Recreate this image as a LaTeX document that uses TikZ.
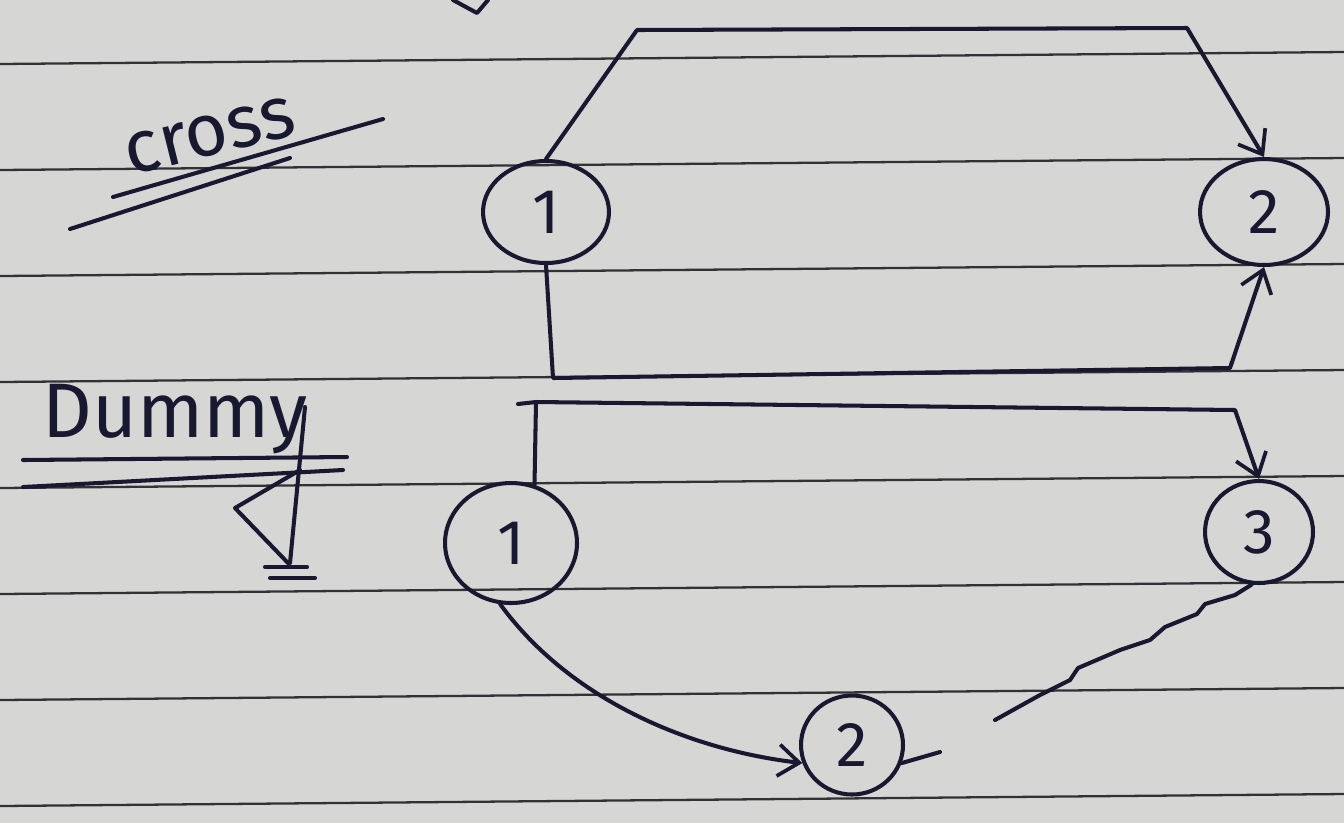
\documentclass[tikz,border=0pt]{standalone}
\usepackage{fontspec}
\setmainfont{Fira Sans}
\usetikzlibrary{arrows.meta,shapes.geometric}
\definecolor{paper}{RGB}{214,214,212}
\definecolor{rule}{RGB}{50,50,54}
\definecolor{ink}{RGB}{24,24,48}
\tikzset{
  pen/.style={draw=ink,line width=2.3pt,line cap=round,line join=round},
  arr/.style={pen,-{Straight Barb[length=12pt,width=18pt,line width=2.1pt]}},
  event/.style={ellipse,draw=ink,line width=2.3pt,inner sep=0pt,text=ink,font=\fontsize{36}{38}\selectfont},
  ruling/.style={draw=rule,line width=1.3pt},
  hand/.style={text=ink,inner sep=0pt}
}
\begin{document}
\begin{tikzpicture}[x=0.02cm,y=-0.02cm]
\fill[paper] (0,0) rectangle (1344,823);
\useasboundingbox (0,0) rectangle (1344,823);
% ruled lines
\foreach \yy in {64,170,276,382,488,594,700,806}
  \draw[ruling] (0,\yy) -- (1344,\yy-12);
% partial stroke at top
\draw[pen] (453,0) -- (477,13) -- (488,0);
% labels
\node[hand,rotate=14,font=\fontsize{42}{46}\selectfont] (lcross) at (210,136) {cross};
\draw[pen] (113,197) -- (383,119);
\draw[pen] (70,229) -- (290,158);
\node[hand,font=\fontsize{44}{48}\selectfont,anchor=south west] (ldummy) at (42,454) {Dummy};
\draw[pen] (23,460) -- (347,457);
\draw[pen] (23,487) -- (343,470);
\draw[pen] (305,407) -- (290,563);
\draw[pen] (300,470) -- (235,508) -- (288,563);
\draw[pen] (265,567) -- (307,567);
\draw[pen] (270,578) -- (315,578);
% cross events
\node[event,minimum width=2.52cm,minimum height=2.04cm] (c1) at (546,212) {1};
\node[event,minimum width=2.56cm,minimum height=2.12cm] (c2) at (1264,212) {2};
\draw[arr] (c1.north) -- (637,30) -- (1187,28) -- (c2.north);
\draw[arr] (c1.south) -- (553,378) -- (1230,368) -- (c2.south);
% dummy events
\node[event,minimum width=2.64cm,minimum height=2.4cm] (d1) at (511,543) {1};
\node[event,minimum width=2.16cm,minimum height=2.04cm] (d3) at (1259,532) {3};
\node[event,minimum width=2.04cm,minimum height=1.98cm] (d2) at (852,745) {2};
\draw[arr] (d1.68) -- (536,402) -- (1235,410) -- (d3.north);
\draw[pen] (518,404) -- (536,402);
\draw[arr] (d1.260) .. controls (570,700) and (690,750) .. (d2.200);
\draw[pen] (d3.262) -- (1235,595) -- (1205,604) -- (1197,614) -- (1165,627) -- (1150,640) -- (1120,650) -- (1078,668) -- (1070,680) -- (1040,695) -- (995,720);
\draw[pen] (d2.340) -- (940,752);
\end{tikzpicture}
\end{document}
